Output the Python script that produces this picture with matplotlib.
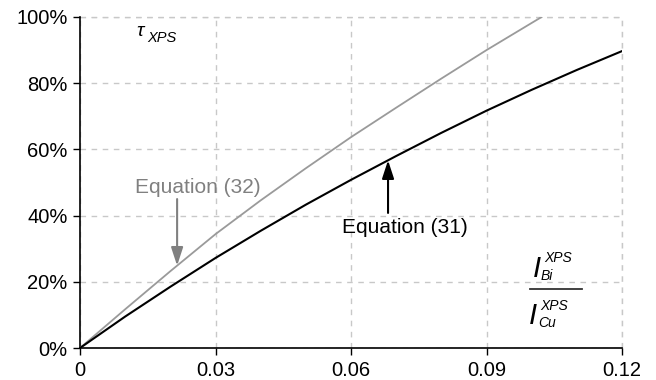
"""Transmission vs. XPS intensity ratio: Equation (31) and Equation (32) curves."""

import matplotlib

matplotlib.use("Agg")
import matplotlib.pyplot as plt
import numpy as np
from matplotlib.ticker import FuncFormatter

# Intensity ratio I_Bi / I_Cu (x) and tau_XPS in percent for each equation.
ratio = [0.0, 0.01, 0.02, 0.03, 0.04, 0.05, 0.06, 0.07, 0.08, 0.09, 0.10, 0.11, 0.12]
tau_eq31 = [0.0, 9.5, 18.5, 27.2, 35.4, 43.3, 50.8, 58.0, 65.0, 71.7, 78.0, 84.0, 89.7]

ratio_eq32 = [0.0, 0.01, 0.02, 0.03, 0.04, 0.05, 0.06, 0.07, 0.08, 0.09, 0.10, 0.1022]
tau_eq32 = [0.0, 11.7, 23.2, 34.4, 44.6, 54.3, 63.7, 72.6, 81.4, 90.0, 98.2, 100.0]

x_ticks = [0.0, 0.03, 0.06, 0.09, 0.12]
x_tick_labels = ["0", "0.03", "0.06", "0.09", "0.12"]
y_ticks = [0, 20, 40, 60, 80, 100]

GRAY_LINE = "#9a9a9a"
GRAY_TEXT = "#808080"
GRID = "#c8c8c8"
FONT = "Liberation Sans"

plt.rcParams["font.family"] = FONT

W, H = 656, 380
fig = plt.figure(figsize=(W / 100, H / 100), dpi=100)
ax = fig.add_axes([80 / W, 1 - 348 / H, (622 - 80) / W, (348 - 17) / H])

ax.plot(ratio_eq32, tau_eq32, color=GRAY_LINE, linewidth=1.3, zorder=3)
ax.plot(ratio, tau_eq31, color="black", linewidth=1.5, zorder=3)

ax.set_xlim(0, 0.12)
ax.set_ylim(0, 100)
ax.set_xticks(x_ticks)
ax.set_xticklabels(x_tick_labels)
ax.set_yticks(y_ticks)
ax.yaxis.set_major_formatter(FuncFormatter(lambda v, _: f"{v:.0f}%"))
ax.tick_params(labelsize=14.5, length=5, width=1, direction="out", pad=4)

for s in ("top", "right"):
    ax.spines[s].set_visible(False)
for s in ("left", "bottom"):
    ax.spines[s].set_linewidth(1.2)

ax.grid(True, color=GRID, linestyle=(0, (4, 4)), linewidth=1)
ax.set_axisbelow(True)
# dashed frame along top and right, like the grid
ax.axhline(100, color=GRID, linestyle=(0, (4, 4)), linewidth=1, clip_on=False, zorder=0)
ax.axvline(0.12, color=GRID, linestyle=(0, (4, 4)), linewidth=1, clip_on=False, zorder=0)

arrow = "-|>,head_length=0.55,head_width=0.18"

# Equation (32) label pointing down at the gray curve
x32 = 0.0215
ax.annotate("", xy=(x32, np.interp(x32, ratio_eq32, tau_eq32)), xytext=(x32, 45.0),
            arrowprops=dict(arrowstyle=arrow, mutation_scale=20, color=GRAY_TEXT,
                            lw=1.5, shrinkA=0, shrinkB=0))
ax.text(0.0122, 48.6, "Equation (32)", color=GRAY_TEXT, fontsize=15, va="center", ha="left")

# Equation (31) label pointing up at the black curve
x31 = 0.0682
ax.annotate("", xy=(x31, np.interp(x31, ratio, tau_eq31)), xytext=(x31, 40.8),
            arrowprops=dict(arrowstyle=arrow, mutation_scale=20, color="black",
                            lw=1.5, shrinkA=0, shrinkB=0))
ax.text(0.058, 36.3, "Equation (31)", color="black", fontsize=15, va="center", ha="left")


def px(x, y):
    return x / W, 1 - y / H


# tau_XPS label, top left
fig.text(*px(136, 31), "\u03c4", fontsize=14, style="italic", va="center", ha="left")
fig.text(*px(147, 38), "XPS", fontsize=10.5, style="italic", va="center", ha="left")

# I_Bi^XPS / I_Cu^XPS fraction, bottom right
fig.text(*px(533, 269), "I", fontsize=21, style="italic", va="center", ha="left")
fig.text(*px(544, 258), "XPS", fontsize=10, style="italic", va="center", ha="left")
fig.text(*px(541, 276), "Bi", fontsize=10, style="italic", va="center", ha="left")
fig.add_artist(plt.Line2D([530 / W, 582 / W], [1 - 289 / H, 1 - 289 / H],
                          color="#333333", linewidth=1.3))
fig.text(*px(529, 316), "I", fontsize=21, style="italic", va="center", ha="left")
fig.text(*px(540, 306), "XPS", fontsize=10, style="italic", va="center", ha="left")
fig.text(*px(538, 323), "Cu", fontsize=10, style="italic", va="center", ha="left")

fig.savefig("out.png", dpi=100)
plt.close(fig)
